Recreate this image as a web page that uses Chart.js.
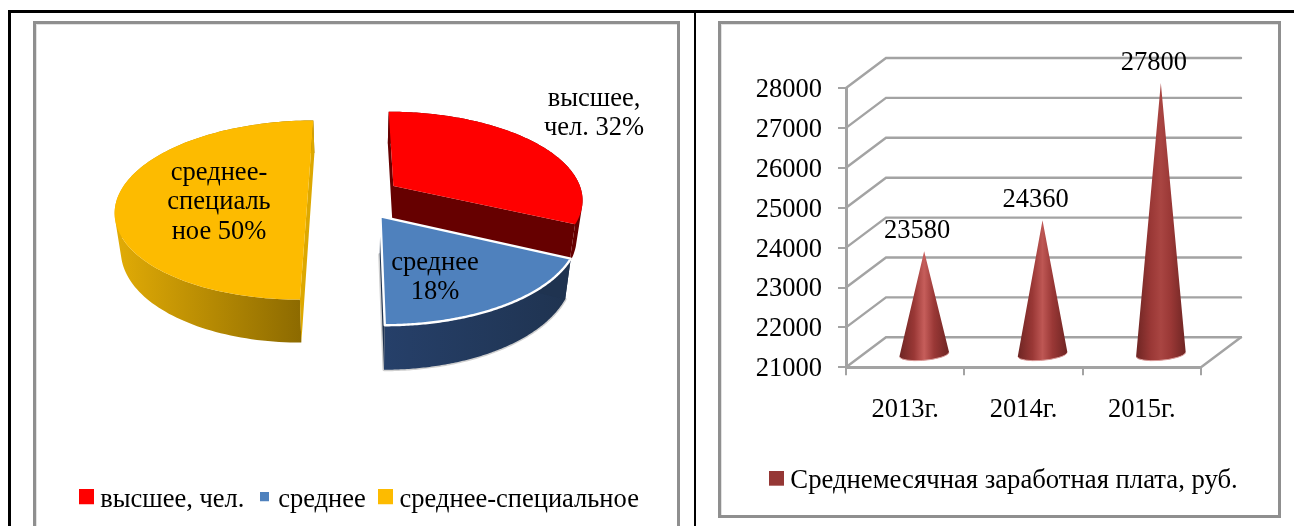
<!DOCTYPE html>
<html lang="ru">
<head>
<meta charset="utf-8">
<style>
html,body{margin:0;padding:0;background:#fff;width:1294px;height:526px;overflow:hidden}
canvas{position:absolute;left:0;top:0}
.k{position:absolute;background:#000}
.g{position:absolute;border:3px solid #8f8f8f;box-sizing:border-box;box-shadow:inset 1px 1px 0 #e2e2e2}
</style>
<script src="https://cdn.jsdelivr.net/npm/chart.js@4"></script>
</head>
<body>
<div class="k" style="left:8px;top:10px;width:1286px;height:3px"></div>
<div class="k" style="left:8px;top:10px;width:3px;height:516px"></div>
<div class="k" style="left:694px;top:10px;width:2px;height:516px"></div>
<div class="g" style="left:33px;top:21px;width:647px;height:515px"></div>
<div class="g" style="left:718px;top:21px;width:563px;height:497px"></div>
<canvas id="pie" width="1294" height="526"></canvas>
<canvas id="cones" width="1294" height="526"></canvas>
<script>
// ---- data ----
const pieCategories = ['высшее, чел.', 'среднее', 'среднее-специальное'];
const pieValues = [32, 18, 50];
const pieLabelLines = [['высшее,', 'чел.'], ['среднее'], ['среднее-', 'специаль', 'ное']];
const years = ['2013г.', '2014г.', '2015г.'];
const wages = [23580, 24360, 27800];
const wageSeriesName = 'Среднемесячная заработная плата, руб.';

// ---- style ----
const FONT = '"Liberation Serif","Times New Roman",serif';
const FS = 26.5;
const pieColors = ['#FF0000', '#4F81BD', '#FDBB00'];
const pieSides = [['#660000', '#660000'], ['#26406A', '#1F3350'], ['#E2AC06', '#876600']];
const pieCutFaces = ['#660000', '#1F3350', '#DDA800'];
const pieRims = [null, '#FFFFFF', null];
const pieMarkers = [15, 9, 15];
const pieTextAnchors = [[594, 99], [435, 263], [219, 173]];
const PIE = {ox: 354.5, oy: 197.5, A: 190, B: 87.8, p: 0.14, explode: 0.247, depth: 37, lean: 0.026};
const coneColor = '#953735';
const coneShine = ['#C65E5B', '#BE5754', '#A94542'];
const DEPTH = {dx: 40, dy: -30};
const CONE = {dx: 19, dy: -13};

// square legend marker; the transparent strip below it lifts it to the text's middle
function marker(size, color, lift) {
  const c = document.createElement('canvas');
  c.width = size; c.height = size + lift;
  const x = c.getContext('2d'); x.fillStyle = color; x.fillRect(0, 0, size, size);
  return c;
}
function placeLegend(left, right) {
  return {id: 'placeLegend', afterLayout(chart) { chart.legend.left = left; chart.legend.right = right; chart.legend.width = right - left; }};
}

// projects a point of the pie plane to the page, with perspective
function proj(X, Z, low) {
  const w = 1 + PIE.p * Z, q = low ? 1 - PIE.lean : 1;
  return [PIE.ox + PIE.A * X / w * q, PIE.oy - PIE.B * Z / w + (low ? PIE.depth / w : 0)];
}
function outline(el) {
  const mid = (el.startAngle + el.endAngle) / 2;
  const ox = PIE.explode * Math.cos(mid), oz = -PIE.explode * Math.sin(mid);
  const pts = [[ox, oz]], n = 120;
  for (let i = 0; i <= n; i++) {
    const t = el.startAngle + (el.endAngle - el.startAngle) * i / n;
    pts.push([ox + Math.cos(t), oz - Math.sin(t)]);
  }
  return pts;
}
function tracePoly(ctx, pts, low) {
  ctx.beginPath();
  pts.forEach((p, i) => { const s = proj(p[0], p[1], low); i ? ctx.lineTo(s[0], s[1]) : ctx.moveTo(s[0], s[1]); });
  ctx.closePath();
}
// adds the side quad of one outline edge to the current path, always wound the same way
function addQuad(ctx, a, b) {
  let q = [proj(a[0], a[1], false), proj(b[0], b[1], false), proj(b[0], b[1], true), proj(a[0], a[1], true)];
  let area = 0;
  q.forEach((s, j) => { const t = q[(j + 1) % 4]; area += s[0] * t[1] - t[0] * s[1]; });
  if (area < 0) q = q.reverse();
  q.forEach((s, j) => j ? ctx.lineTo(s[0], s[1]) : ctx.moveTo(s[0], s[1]));
  ctx.closePath();
}

const pie3d = {
  id: 'pie3d',
  beforeDatasetDraw(chart) {
    const ctx = chart.ctx, els = chart.getDatasetMeta(0).data;
    ctx.save();
    ctx.lineJoin = 'round';
    [2, 0, 1].forEach(i => {
      const el = els[i], pts = outline(el), arc = pts.slice(1);
      const xs = pts.map(p => proj(p[0], p[1], false)[0]);
      const g = ctx.createLinearGradient(Math.min(...xs), 0, Math.max(...xs), 0);
      g.addColorStop(0, pieSides[i][0]); g.addColorStop(1, pieSides[i][1]);
      if (pieRims[i]) {
        tracePoly(ctx, pts, true);
        ctx.strokeStyle = '#CFCFCF'; ctx.lineWidth = 3; ctx.stroke();
      }
      // outer wall as one path
      ctx.fillStyle = g;
      ctx.beginPath();
      for (let k = 0; k < arc.length - 1; k++) addQuad(ctx, arc[k], arc[k + 1]);
      ctx.fill();
      // cut faces
      ctx.fillStyle = pieCutFaces[i];
      ctx.beginPath();
      addQuad(ctx, pts[0], pts[1]);
      addQuad(ctx, pts[0], pts[pts.length - 1]);
      ctx.fill();
      // top
      tracePoly(ctx, pts, false);
      ctx.fillStyle = el.options.backgroundColor; ctx.fill();
      if (pieRims[i]) { ctx.strokeStyle = pieRims[i]; ctx.lineWidth = 2.4; ctx.stroke(); }
    });
    ctx.fillStyle = '#000'; ctx.font = FS + 'px ' + FONT;
    ctx.textAlign = 'center'; ctx.textBaseline = 'middle';
    const total = pieValues.reduce((a, b) => a + b, 0);
    pieLabelLines.forEach((lines, i) => {
      const pct = Math.round(pieValues[i] / total * 100) + '%';
      let rows = lines.slice();
      if (i === 1) rows = [lines[0], pct]; else rows[rows.length - 1] += ' ' + pct;
      rows.forEach((t, r) => ctx.fillText(t, pieTextAnchors[i][0], pieTextAnchors[i][1] + r * 29.5));
    });
    ctx.restore();
    return false;
  }
};

new Chart(document.getElementById('pie'), {
  type: 'pie',
  data: {labels: pieCategories, datasets: [{data: pieValues, backgroundColor: pieColors, borderWidth: 0}]},
  options: {
    responsive: false, animation: false,
    layout: {padding: {left: 40, right: 620, top: 30, bottom: 3}},
    plugins: {
      tooltip: {enabled: false},
      legend: {
        position: 'bottom', align: 'start',
        labels: {
          color: '#000', font: {family: FONT, size: FS}, usePointStyle: true, boxWidth: 1, padding: 19.5,
          generateLabels: () => pieCategories.map((t, i) => ({
            text: t, pointStyle: marker(pieMarkers[i], pieColors[i], 6), fillStyle: pieColors[i],
            strokeStyle: pieColors[i], lineWidth: 0, hidden: false, index: i
          }))
        }
      }
    }
  },
  plugins: [pie3d, placeLegend(66.5, 700)]
});

const cone3d = {
  id: 'cone3d',
  beforeDatasetsDraw(chart) {
    const ctx = chart.ctx, y = chart.scales.y, x = chart.scales.x;
    const L = x.left, R = x.right, B = y.bottom;
    ctx.save();
    ctx.strokeStyle = '#A3A3A3'; ctx.lineWidth = 2.4; ctx.lineCap = 'round';
    y.ticks.forEach(t => {
      const py = y.getPixelForValue(t.value);
      ctx.beginPath();
      ctx.moveTo(L, py); ctx.lineTo(L + DEPTH.dx, py + DEPTH.dy); ctx.lineTo(R + DEPTH.dx, py + DEPTH.dy);
      ctx.stroke();
    });
    ctx.beginPath();
    ctx.moveTo(R, B); ctx.lineTo(R + DEPTH.dx, B + DEPTH.dy);
    ctx.stroke();
    ctx.restore();
  },
  beforeDatasetDraw(chart) {
    const ctx = chart.ctx, yScale = chart.scales.y;
    chart.getDatasetMeta(0).data.forEach((el, i) => {
      const cx = el.x + CONE.dx, top = el.y + CONE.dy, base = yScale.getPixelForValue(yScale.min) + CONE.dy, hw = el.width / 2;
      const g = ctx.createLinearGradient(cx - hw, 0, cx + hw, 0);
      g.addColorStop(0, '#6E2523'); g.addColorStop(0.3, '#9A3836');
      g.addColorStop(0.5, coneShine[i]); g.addColorStop(0.7, '#9A3836'); g.addColorStop(1, '#6E2523');
      const tilt = -0.09, hh = 6;
      ctx.save();
      ctx.beginPath();
      ctx.moveTo(cx, top);
      ctx.lineTo(cx + hw, base - hw * Math.sin(-tilt));
      ctx.ellipse(cx, base, hw, hh, tilt, 0, Math.PI);
      ctx.closePath();
      ctx.fillStyle = g; ctx.fill();
      ctx.beginPath();
      ctx.ellipse(cx, base, hw, hh, tilt, 0.1, Math.PI - 0.1);
      ctx.strokeStyle = '#D89A98'; ctx.lineWidth = 1; ctx.stroke();
      ctx.fillStyle = '#000'; ctx.font = FS + 'px ' + FONT;
      ctx.textAlign = 'center'; ctx.textBaseline = 'middle';
      ctx.fillText(String(wages[i]), cx - 7, top - 20);
      ctx.restore();
    });
    return false;
  }
};

new Chart(document.getElementById('cones'), {
  type: 'bar',
  data: {labels: years, datasets: [{label: wageSeriesName, data: wages, backgroundColor: coneColor, barPercentage: 0.42, categoryPercentage: 1}]},
  options: {
    responsive: false, animation: false,
    layout: {padding: {left: 730, right: 93, top: 88, bottom: 22}},
    scales: {
      y: {
        min: 21000, max: 28000,
        afterFit(s) { s.width = 116; },
        ticks: {stepSize: 1000, color: '#000', font: {family: FONT, size: FS}, padding: 16, autoSkip: false, labelOffset: 2, callback: v => String(v)},
        grid: {drawOnChartArea: false, tickLength: 8, tickColor: '#A3A3A3', lineWidth: 2},
        border: {color: '#A3A3A3', width: 3}
      },
      x: {
        afterFit(s) { s.height = 90; },
        ticks: {color: '#000', font: {family: FONT, size: FS}, padding: 19},
        grid: {drawOnChartArea: false, tickLength: 8, tickColor: '#A3A3A3', lineWidth: 2},
        border: {color: '#A3A3A3', width: 3}
      }
    },
    plugins: {
      tooltip: {enabled: false},
      legend: {
        position: 'bottom', align: 'start',
        labels: {
          color: '#000', font: {family: FONT, size: 26.7}, usePointStyle: true, boxWidth: 1, padding: 10,
          generateLabels: () => [{text: wageSeriesName, pointStyle: marker(15, coneColor, 5), fillStyle: coneColor,
            strokeStyle: coneColor, lineWidth: 0, hidden: false, datasetIndex: 0}]
        }
      }
    }
  },
  plugins: [cone3d, placeLegend(766, 1290)]
});
</script>
</body>
</html>
